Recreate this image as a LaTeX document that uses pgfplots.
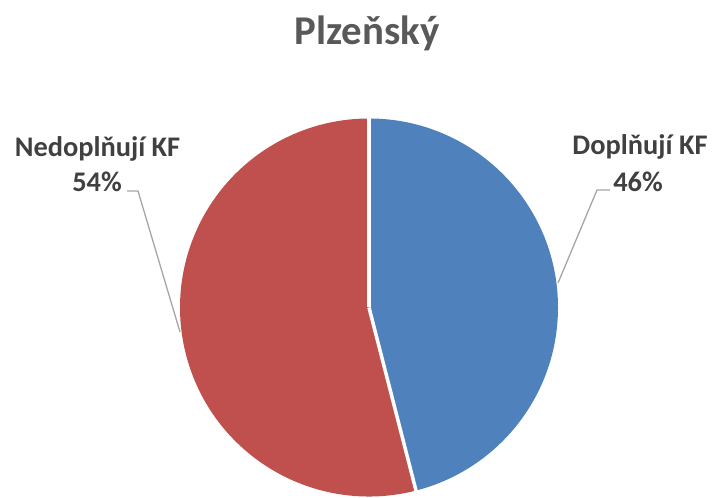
\documentclass[border=0pt]{standalone}
\usepackage{pgfplots}
\pgfplotsset{compat=1.18}
\usepackage{fontspec}
\setmainfont{Carlito}
\definecolor{pieblue}{HTML}{4F81BD}
\definecolor{piered}{HTML}{C0504D}
\definecolor{titlegray}{HTML}{595959}
\definecolor{labelgray}{HTML}{404040}
\definecolor{leadergray}{HTML}{A6A6A6}
% data (percent)
\def\valA{46}% Doplňují KF
\def\valB{54}% Nedoplňují KF
\begin{document}
\begin{tikzpicture}
\path[use as bounding box] (0,0) rectangle (713bp,498bp);
\begin{axis}[
  at={(0,0)}, anchor=south west,
  width=713bp, height=498bp, scale only axis,
  xmin=0, xmax=713, ymin=0, ymax=498,
  hide axis, clip=false,
]
\pgfmathsetmacro{\angA}{90-3.6*\valA}
\pgfmathsetmacro{\angB}{\angA-3.6*\valB}
% sectors
\fill[pieblue]
  (axis cs:369,190.5) -- ++(90:189bp) arc[start angle=90, end angle=\angA, radius=189bp] -- cycle;
\fill[piered]
  (axis cs:369,190.5) -- ++(\angA:189bp) arc[start angle=\angA, end angle=\angB, radius=189bp] -- cycle;
\draw[white, line width=3.5bp] (axis cs:369,190.5) -- ++(90:192bp);
\draw[white, line width=3.5bp] (axis cs:369,190.5) -- ++(\angA:192bp);
% leader lines
\addplot[leadergray, line width=1.3bp, mark=none] coordinates {(558,215) (597,308) (610,308)};
\addplot[leadergray, line width=1.3bp, mark=none] coordinates {(180,166) (138,307) (127,307)};
% labels
\node[anchor=base, font=\bfseries\fontsize{41}{49}\selectfont, text=titlegray] at (axis cs:367,453) {Plzeňský};
\node[anchor=base, font=\bfseries\fontsize{28.5}{34}\selectfont, text=labelgray] at (axis cs:640,343) {Doplňují KF};
\node[anchor=base, font=\bfseries\fontsize{28.5}{34}\selectfont, text=labelgray] at (axis cs:638,306) {\valA\%};
\node[anchor=base, font=\bfseries\fontsize{28.5}{34}\selectfont, text=labelgray] at (axis cs:97.5,341) {Nedoplňují KF};
\node[anchor=base, font=\bfseries\fontsize{28.5}{34}\selectfont, text=labelgray] at (axis cs:97,306) {\valB\%};
\end{axis}
\end{tikzpicture}
\end{document}
